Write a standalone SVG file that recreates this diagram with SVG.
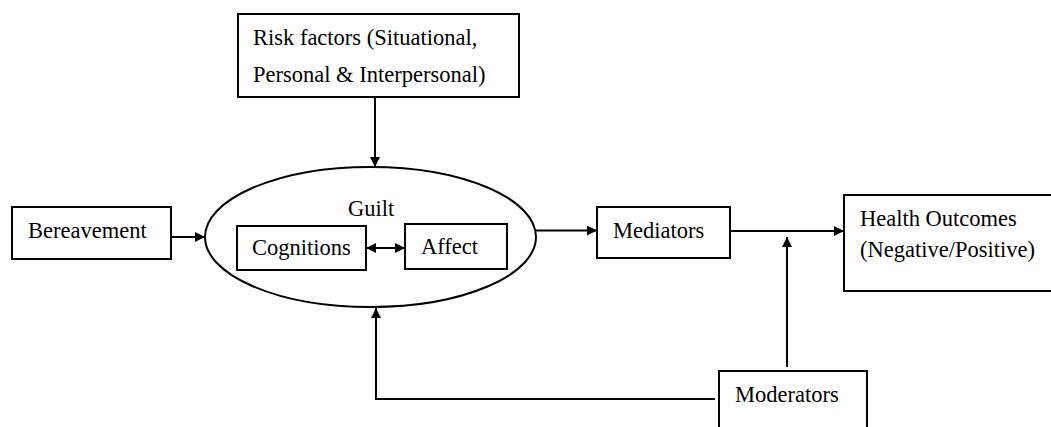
<svg xmlns="http://www.w3.org/2000/svg" width="1051" height="427" viewBox="0 0 1051 427">
<style>
.box{fill:#fff;stroke:#000;stroke-width:2}
.t{font-family:"Liberation Serif","Times New Roman",serif;font-size:22.5px;fill:#000}
.c{fill:none;stroke:#000;stroke-width:2}
</style>
<defs>
<marker id="ah" viewBox="0 0 10 10" refX="10" refY="5" markerWidth="10" markerHeight="10" markerUnits="userSpaceOnUse" orient="auto-start-reverse">
<path d="M0,0 L10,5 L0,10 z" fill="#000"/>
</marker>
</defs>
<rect width="1051" height="427" fill="#fff"/>
<g id="risk">
<rect class="box" x="238" y="14" width="281" height="83"/>
<text class="t" x="253" y="45">Risk factors (Situational,</text>
<text class="t" x="253" y="82">Personal &amp; Interpersonal)</text>
</g>
<g id="bereavement">
<rect class="box" x="12" y="207" width="159" height="52"/>
<text class="t" x="28" y="238">Bereavement</text>
</g>
<g id="guilt">
<ellipse class="box" cx="370.5" cy="237" rx="165.5" ry="70"/>
<text class="t" x="348" y="216">Guilt</text>
</g>
<g id="cognitions">
<rect class="box" x="237" y="226" width="129" height="44"/>
<text class="t" x="252" y="255">Cognitions</text>
</g>
<g id="affect">
<rect class="box" x="405" y="224" width="102" height="45"/>
<text class="t" x="421" y="254">Affect</text>
</g>
<g id="mediators">
<rect class="box" x="597" y="207" width="133" height="51"/>
<text class="t" x="613" y="238">Mediators</text>
</g>
<g id="health">
<rect class="box" x="844" y="195" width="220" height="96"/>
<text class="t" x="860" y="226">Health Outcomes</text>
<text class="t" x="860" y="257">(Negative/Positive)</text>
</g>
<g id="moderators">
<rect class="box" x="719" y="371" width="148" height="70"/>
<text class="t" x="735" y="402">Moderators</text>
</g>
<g id="connectors">
<line class="c" x1="375" y1="97" x2="375" y2="167" marker-end="url(#ah)"/>
<line class="c" x1="171" y1="237" x2="205" y2="237" marker-end="url(#ah)"/>
<line class="c" x1="366" y1="248" x2="405" y2="248" marker-start="url(#ah)" marker-end="url(#ah)"/>
<line class="c" x1="536" y1="230.5" x2="597" y2="230.5" marker-end="url(#ah)"/>
<line class="c" x1="730" y1="231" x2="844" y2="231" marker-end="url(#ah)"/>
<line class="c" x1="787" y1="367" x2="787" y2="237" marker-end="url(#ah)"/>
<polyline class="c" points="715,399 376,399 376,308" marker-end="url(#ah)"/>
</g>
</svg>
